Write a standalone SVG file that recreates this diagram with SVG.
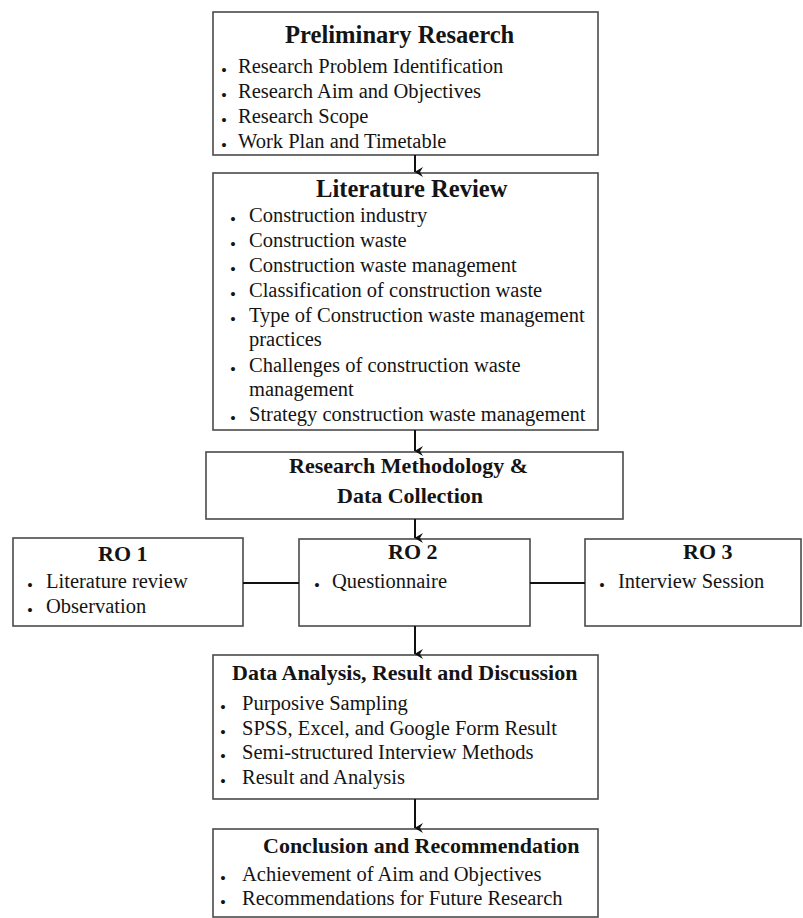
<svg xmlns="http://www.w3.org/2000/svg" width="803" height="918" viewBox="0 0 803 918">
<style>
.box{fill:#fff;stroke:#4a4a4a;stroke-width:1.6}
.t{font-family:"Liberation Serif","Times New Roman",serif;fill:#141414}
.h1{font-size:24.6px;font-weight:bold}
.h2{font-size:22px;font-weight:bold}
.li{font-size:20.5px}
.b{font-size:17px}
.con{stroke:#111;stroke-width:2;fill:none}
</style>
<defs>
<marker id="ah" markerWidth="12" markerHeight="12" refX="6" refY="10" orient="auto" markerUnits="userSpaceOnUse" viewBox="0 0 12 12">
<path d="M1,2 L6,10.5 L11,2 L6,5 Z" fill="#111"/>
</marker>
</defs>
<rect width="803" height="918" fill="#fff"/>

<g id="preliminary">
<rect class="box" x="213" y="12" width="385" height="143"/>
<text class="t h1" x="285" y="43">Preliminary Resaerch</text>
<text class="t b" x="221" y="76">•</text><text class="t li" x="238" y="73">Research Problem Identification</text>
<text class="t b" x="221" y="101">•</text><text class="t li" x="238" y="98">Research Aim and Objectives</text>
<text class="t b" x="221" y="126">•</text><text class="t li" x="238" y="123">Research Scope</text>
<text class="t b" x="221" y="151">•</text><text class="t li" x="238" y="148">Work Plan and Timetable</text>
</g>

<g id="literature">
<rect class="box" x="213" y="173" width="385" height="257"/>
<text class="t h1" x="316" y="197">Literature Review</text>
<text class="t b" x="230" y="225">•</text><text class="t li" x="249" y="222">Construction industry</text>
<text class="t b" x="230" y="250">•</text><text class="t li" x="249" y="247">Construction waste</text>
<text class="t b" x="230" y="275">•</text><text class="t li" x="249" y="272">Construction waste management</text>
<text class="t b" x="230" y="300">•</text><text class="t li" x="249" y="297">Classification of construction waste</text>
<text class="t b" x="230" y="325">•</text><text class="t li" x="249" y="322">Type of Construction waste management</text>
<text class="t li" x="249" y="346">practices</text>
<text class="t b" x="230" y="375">•</text><text class="t li" x="249" y="372">Challenges of construction waste</text>
<text class="t li" x="249" y="396">management</text>
<text class="t b" x="230" y="424">•</text><text class="t li" x="249" y="421">Strategy construction waste management</text>
</g>

<g id="methodology">
<rect class="box" x="206" y="452" width="417" height="67"/>
<text class="t h2" x="289" y="473">Research Methodology &amp;</text>
<text class="t h2" x="337" y="503">Data Collection</text>
</g>

<g id="ro1">
<rect class="box" x="13" y="538" width="230" height="88"/>
<text class="t h2" x="98" y="561">RO 1</text>
<text class="t b" x="27" y="591">•</text><text class="t li" x="46" y="588">Literature review</text>
<text class="t b" x="27" y="616">•</text><text class="t li" x="46" y="613">Observation</text>
</g>

<g id="ro2">
<rect class="box" x="299" y="539" width="231" height="87"/>
<text class="t h2" x="388" y="559">RO 2</text>
<text class="t b" x="314" y="591">•</text><text class="t li" x="332" y="588">Questionnaire</text>
</g>

<g id="ro3">
<rect class="box" x="585" y="539" width="216" height="87"/>
<text class="t h2" x="683" y="559">RO 3</text>
<text class="t b" x="599" y="591">•</text><text class="t li" x="618" y="588">Interview Session</text>
</g>

<g id="analysis">
<rect class="box" x="213" y="655" width="385" height="144"/>
<text class="t h2" x="232" y="680">Data Analysis, Result and Discussion</text>
<text class="t b" x="220" y="713">•</text><text class="t li" x="242" y="710">Purposive Sampling</text>
<text class="t b" x="220" y="738">•</text><text class="t li" x="242" y="735">SPSS, Excel, and Google Form Result</text>
<text class="t b" x="220" y="762">•</text><text class="t li" x="242" y="759">Semi-structured Interview Methods</text>
<text class="t b" x="220" y="787">•</text><text class="t li" x="242" y="784">Result and Analysis</text>
</g>

<g id="conclusion">
<rect class="box" x="213" y="829" width="385" height="88"/>
<text class="t h2" x="263" y="853">Conclusion and Recommendation</text>
<text class="t b" x="220" y="884">•</text><text class="t li" x="242" y="881">Achievement of Aim and Objectives</text>
<text class="t b" x="220" y="908">•</text><text class="t li" x="242" y="905">Recommendations for Future Research</text>
</g>

<g id="connectors">
<line class="con" x1="415" y1="155" x2="415" y2="172" marker-end="url(#ah)"/>
<line class="con" x1="415" y1="430" x2="415" y2="451" marker-end="url(#ah)"/>
<line class="con" x1="415" y1="519" x2="415" y2="538" marker-end="url(#ah)"/>
<line class="con" x1="415" y1="626" x2="415" y2="654" marker-end="url(#ah)"/>
<line class="con" x1="415" y1="799" x2="415" y2="828" marker-end="url(#ah)"/>
<line class="con" x1="243" y1="583" x2="299" y2="583"/>
<line class="con" x1="530" y1="583" x2="585" y2="583"/>
</g>
</svg>
